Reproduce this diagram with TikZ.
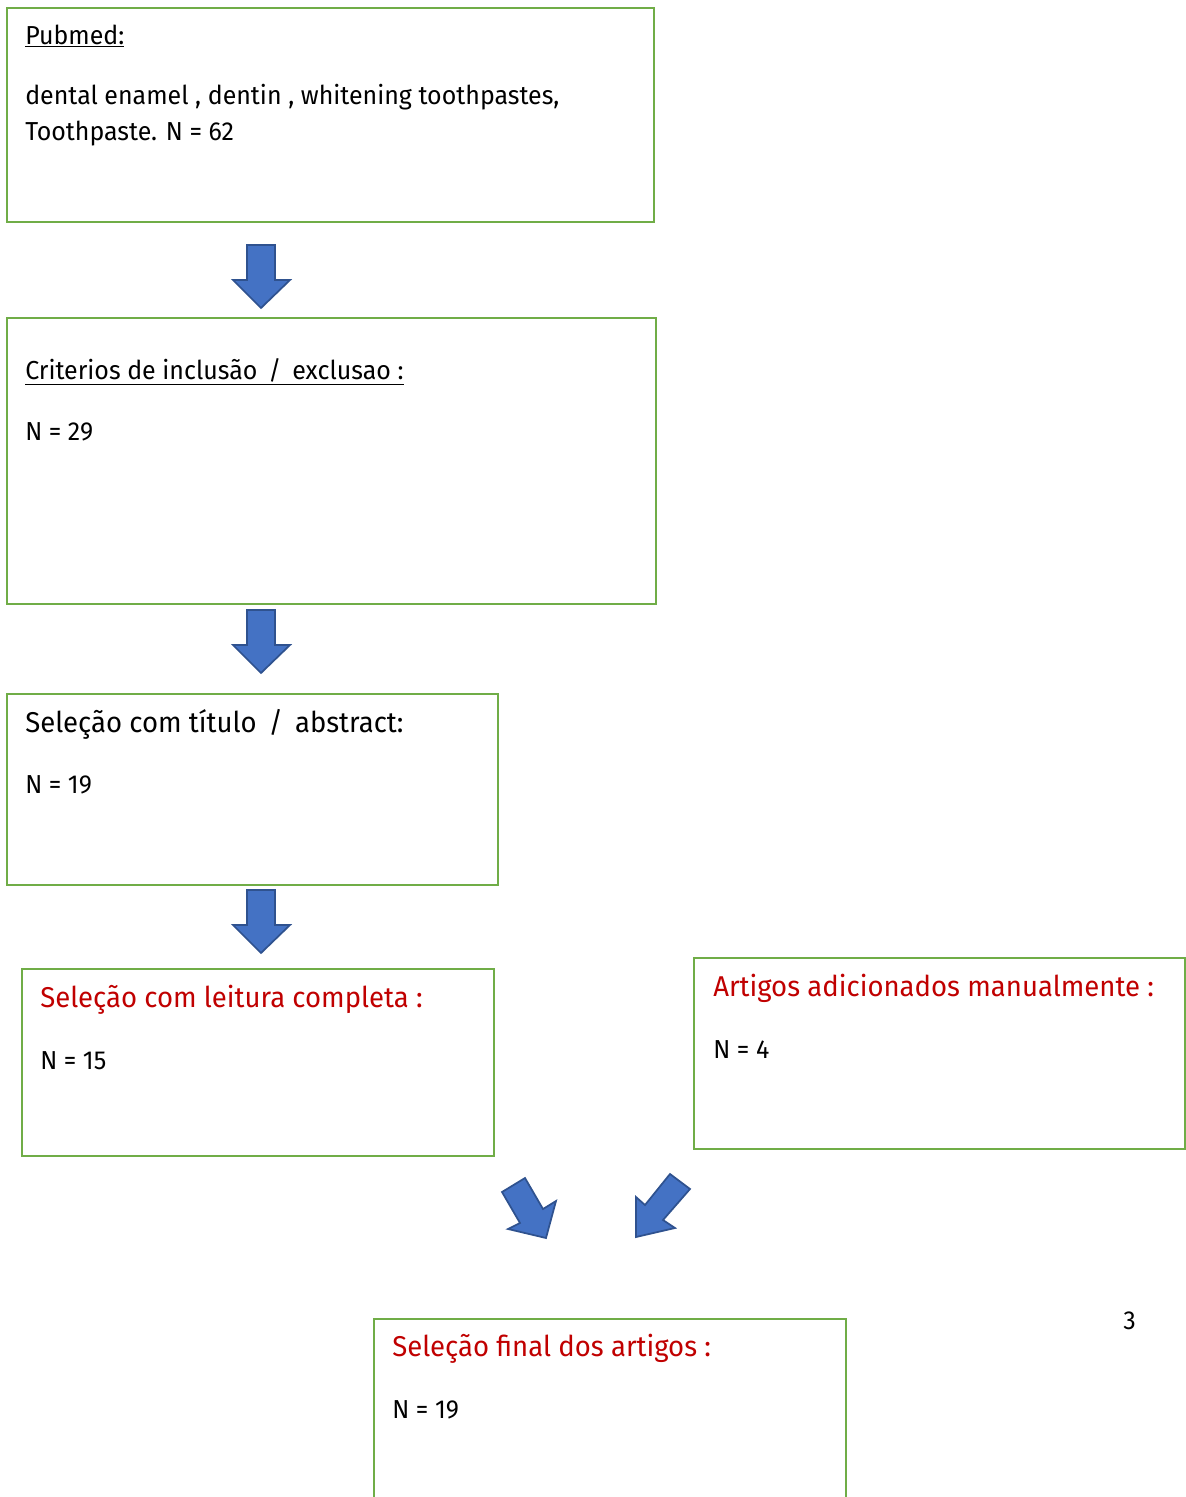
\documentclass[tikz,border=0pt]{standalone}
\usepackage{fontspec}
\setmainfont{Fira Sans}[FakeStretch=0.96]
\definecolor{boxgreen}{HTML}{70AD47}
\definecolor{arrblue}{HTML}{4472C4}
\definecolor{arrline}{HTML}{2F528F}
\definecolor{redtxt}{HTML}{C00000}
\tikzset{
  box/.style={draw=boxgreen, line width=2pt, fill=none},
  txt/.style={anchor=west, inner sep=0pt, font=\fontsize{19.5}{23}\selectfont},
  bigt/.style={anchor=west, inner sep=0pt, font=\fontsize{21.5}{25}\selectfont},
  redt/.style={bigt, text=redtxt},
  blockarrow/.style={fill=arrblue, draw=arrline, line width=1.3pt, line join=miter}
}
\begin{document}
\begin{tikzpicture}[x=0.75pt, y=-0.75pt]
\useasboundingbox (0,0) rectangle (1186,1497);
\clip (0,0) rectangle (1186,1497);
% boxes
\draw[box] (7,8) rectangle (654,222) node[coordinate] (b1) {};
\draw[box] (7,318) rectangle (656,604) node[coordinate] (b2) {};
\draw[box] (7,694) rectangle (498,885) node[coordinate] (b3) {};
\draw[box] (22,969) rectangle (494,1156) node[coordinate] (b4) {};
\draw[box] (694,958) rectangle (1185,1149) node[coordinate] (b5) {};
\draw[box] (374,1319) rectangle (846,1520) node[coordinate] (b6) {};
% texts
\node[txt] (t1a) at (25,36) {\underline{Pubmed:}};
\node[txt] (t1b) at (25,97) {dental enamel , dentin , whitening toothpastes,};
\node[txt] (t1c) at (25,134) {Toothpaste. N = 62};
\node[txt] (t2a) at (25,372) {\underline{Criterios de inclusão \,/\, exclusao :}};
\node[txt] (t2b) at (25,432) {N = 29};
\node[bigt] (t3a) at (25,724) {Seleção com título \,/\, abstract:};
\node[txt] (t3b) at (25,785) {N = 19};
\node[redt] (t4a) at (40,1000) {Seleção com leitura completa :};
\node[txt] (t4b) at (40,1061) {N = 15};
\node[redt] (t5a) at (713,988) {Artigos adicionados manualmente :};
\node[txt] (t5b) at (713,1050) {N = 4};
\node[redt] (t6a) at (392,1349) {Seleção final dos artigos :};
\node[txt] (t6b) at (392,1410) {N = 19};
\node[txt] (pg) at (1123,1321) {3};
% down arrows
\foreach \y in {245,610,890}{
  \draw[blockarrow] (247,\y) -- (275,\y) -- (275,\y+35) -- (290,\y+35) -- (261,\y+63) -- (233,\y+35) -- (247,\y+35) -- cycle;
}
% diagonal arrows
\draw[blockarrow] (502,1192) -- (525,1178) -- (543,1209) -- (556,1201) -- (546,1238) -- (508,1229) -- (520,1223) -- cycle;
\draw[blockarrow] (670,1174) -- (690,1189) -- (663,1220) -- (675,1228) -- (636,1237) -- (636,1197) -- (645,1205) -- cycle;
\end{tikzpicture}
\end{document}
